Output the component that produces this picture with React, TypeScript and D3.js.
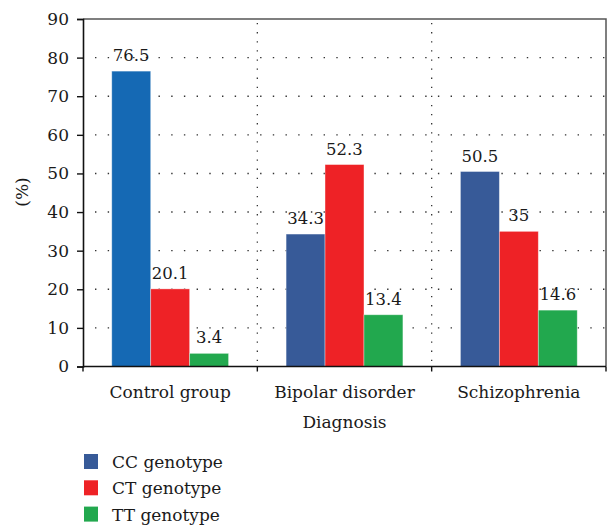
import { useEffect, useRef } from "react";
import * as d3 from "d3";

const categories = ["Control group", "Bipolar disorder", "Schizophrenia"];
const series = ["CC genotype", "CT genotype", "TT genotype"];
const ccValues = [76.5, 34.3, 50.5];
const ctValues = [20.1, 52.3, 35];
const ttValues = [3.4, 13.4, 14.6];
const yTicks = [0, 10, 20, 30, 40, 50, 60, 70, 80, 90];

const colors = ["#375a98", "#ee2226", "#22a84e"];
// the control group's CC bar is drawn in a brighter blue in the source
const controlCC = "#1569b4";

const W = 607;
const H = 530;
const FONT = "DejaVu Serif";

export default function App() {
  const ref = useRef<SVGSVGElement | null>(null);

  useEffect(() => {
    const svg = d3.select(ref.current!);
    svg.selectAll("*").remove();

    const margin = { top: 19, right: 1, bottom: 163.5, left: 83 };
    const w = W - margin.left - margin.right;
    const h = H - margin.top - margin.bottom;

    const g = svg
      .append("g")
      .attr("transform", `translate(${margin.left},${margin.top})`);

    const x = d3.scaleBand<string>().domain(categories).range([0, w]).padding(0);
    const bw = x.bandwidth();
    const xs = d3
      .scaleBand<string>()
      .domain(series)
      .range([bw * 0.165, bw * 0.835])
      .padding(0);
    const y = d3.scaleLinear().domain([0, 90]).range([h, 0]);

    // dotted grid
    g.append("g")
      .selectAll("line")
      .data(yTicks.filter((t) => t > 0 && t < 90))
      .join("line")
      .attr("x1", 12)
      .attr("x2", w)
      .attr("y1", (d) => y(d))
      .attr("y2", (d) => y(d))
      .attr("stroke", "#333")
      .attr("stroke-width", 1.4)
      .attr("stroke-dasharray", "1.4,11.3");

    g.append("g")
      .selectAll("line")
      .data(categories.slice(1))
      .join("line")
      .attr("x1", (d) => x(d)!)
      .attr("x2", (d) => x(d)!)
      .attr("y1", 4)
      .attr("y2", h)
      .attr("stroke", "#333")
      .attr("stroke-width", 1.3)
      .attr("stroke-dasharray", "1.3,7.8");

    // frame top & right
    g.append("path")
      .attr("d", `M0,0H${w}V${h}`)
      .attr("fill", "none")
      .attr("stroke", "#555")
      .attr("stroke-width", 1.5);

    const table = categories.map((c, i) => ({
      cat: c,
      vals: [ccValues[i], ctValues[i], ttValues[i]],
    }));

    const groups = g
      .selectAll("g.grp")
      .data(table)
      .join("g")
      .attr("class", "grp")
      .attr("transform", (d) => `translate(${x(d.cat)},0)`);

    const bars = groups
      .selectAll("g.bar")
      .data((d, gi) => d.vals.map((v, si) => ({ v, si, gi })))
      .join("g")
      .attr("class", "bar");

    bars
      .append("rect")
      .attr("x", (d) => xs(series[d.si])!)
      .attr("y", (d) => y(d.v))
      .attr("width", xs.bandwidth())
      .attr("height", (d) => h - y(d.v))
      .attr("fill", (d) => (d.gi === 0 && d.si === 0 ? controlCC : colors[d.si]))
      .attr("stroke", "rgba(255,255,255,0.45)")
      .attr("stroke-width", 0.8);

    bars
      .append("text")
      .attr("x", (d) => xs(series[d.si])! + xs.bandwidth() / 2)
      .attr("y", (d) => y(d.v) - 10)
      .attr("text-anchor", "middle")
      .attr("font-family", FONT)
      .attr("font-size", 16.5)
      .attr("fill", "#1a1a1a")
      .text((d) => String(d.v));

    // y axis
    const yAxis = g
      .append("g")
      .call(d3.axisLeft(y).tickValues(yTicks).tickSize(6).tickPadding(8));
    yAxis.select(".domain").attr("stroke", "#111").attr("stroke-width", 1.6);
    yAxis.selectAll(".tick line").attr("stroke", "#111").attr("stroke-width", 1.4);
    yAxis
      .attr("font-family", FONT)
      .attr("font-size", 17)
      .selectAll(".tick text")
      .attr("fill", "#1a1a1a");

    // x axis
    const xAxis = g.append("g").attr("transform", `translate(0,${h})`);
    xAxis
      .append("line")
      .attr("x1", 0)
      .attr("x2", w)
      .attr("stroke", "#111")
      .attr("stroke-width", 1.6);
    xAxis
      .selectAll("line.tk")
      .data([0, ...categories.slice(1).map((c) => x(c)!), w])
      .join("line")
      .attr("class", "tk")
      .attr("x1", (d) => d)
      .attr("x2", (d) => d)
      .attr("y1", 0)
      .attr("y2", 5)
      .attr("stroke", "#111")
      .attr("stroke-width", 1.4);
    xAxis
      .selectAll("text")
      .data(categories)
      .join("text")
      .attr("x", (d) => x(d)! + bw / 2)
      .attr("y", 31)
      .attr("text-anchor", "middle")
      .attr("font-family", FONT)
      .attr("font-size", 17)
      .attr("fill", "#1a1a1a")
      .text((d) => d);

    g.append("text")
      .attr("x", w / 2)
      .attr("y", h + 61)
      .attr("text-anchor", "middle")
      .attr("font-family", FONT)
      .attr("font-size", 17)
      .attr("fill", "#1a1a1a")
      .text("Diagnosis");

    svg
      .append("text")
      .attr("transform", `translate(28,192) rotate(-90)`)
      .attr("text-anchor", "middle")
      .attr("font-family", FONT)
      .attr("font-size", 17)
      .attr("fill", "#1a1a1a")
      .text("(%)");

    // legend
    const legend = svg
      .append("g")
      .selectAll("g")
      .data(series)
      .join("g")
      .attr("transform", (d, i) => `translate(84,${454 + i * 26.3})`);
    legend
      .append("rect")
      .attr("width", 14)
      .attr("height", 15)
      .attr("fill", (d, i) => colors[i]);
    legend
      .append("text")
      .attr("x", 28)
      .attr("y", 14)
      .attr("font-family", FONT)
      .attr("font-size", 17)
      .attr("fill", "#1a1a1a")
      .text((d) => d);
  }, []);

  return (
    <div style={{ position: "absolute", left: 0, top: 0 }}>
      <svg ref={ref} width={W} height={H} style={{ display: "block", background: "#fff" }} />
    </div>
  );
}
